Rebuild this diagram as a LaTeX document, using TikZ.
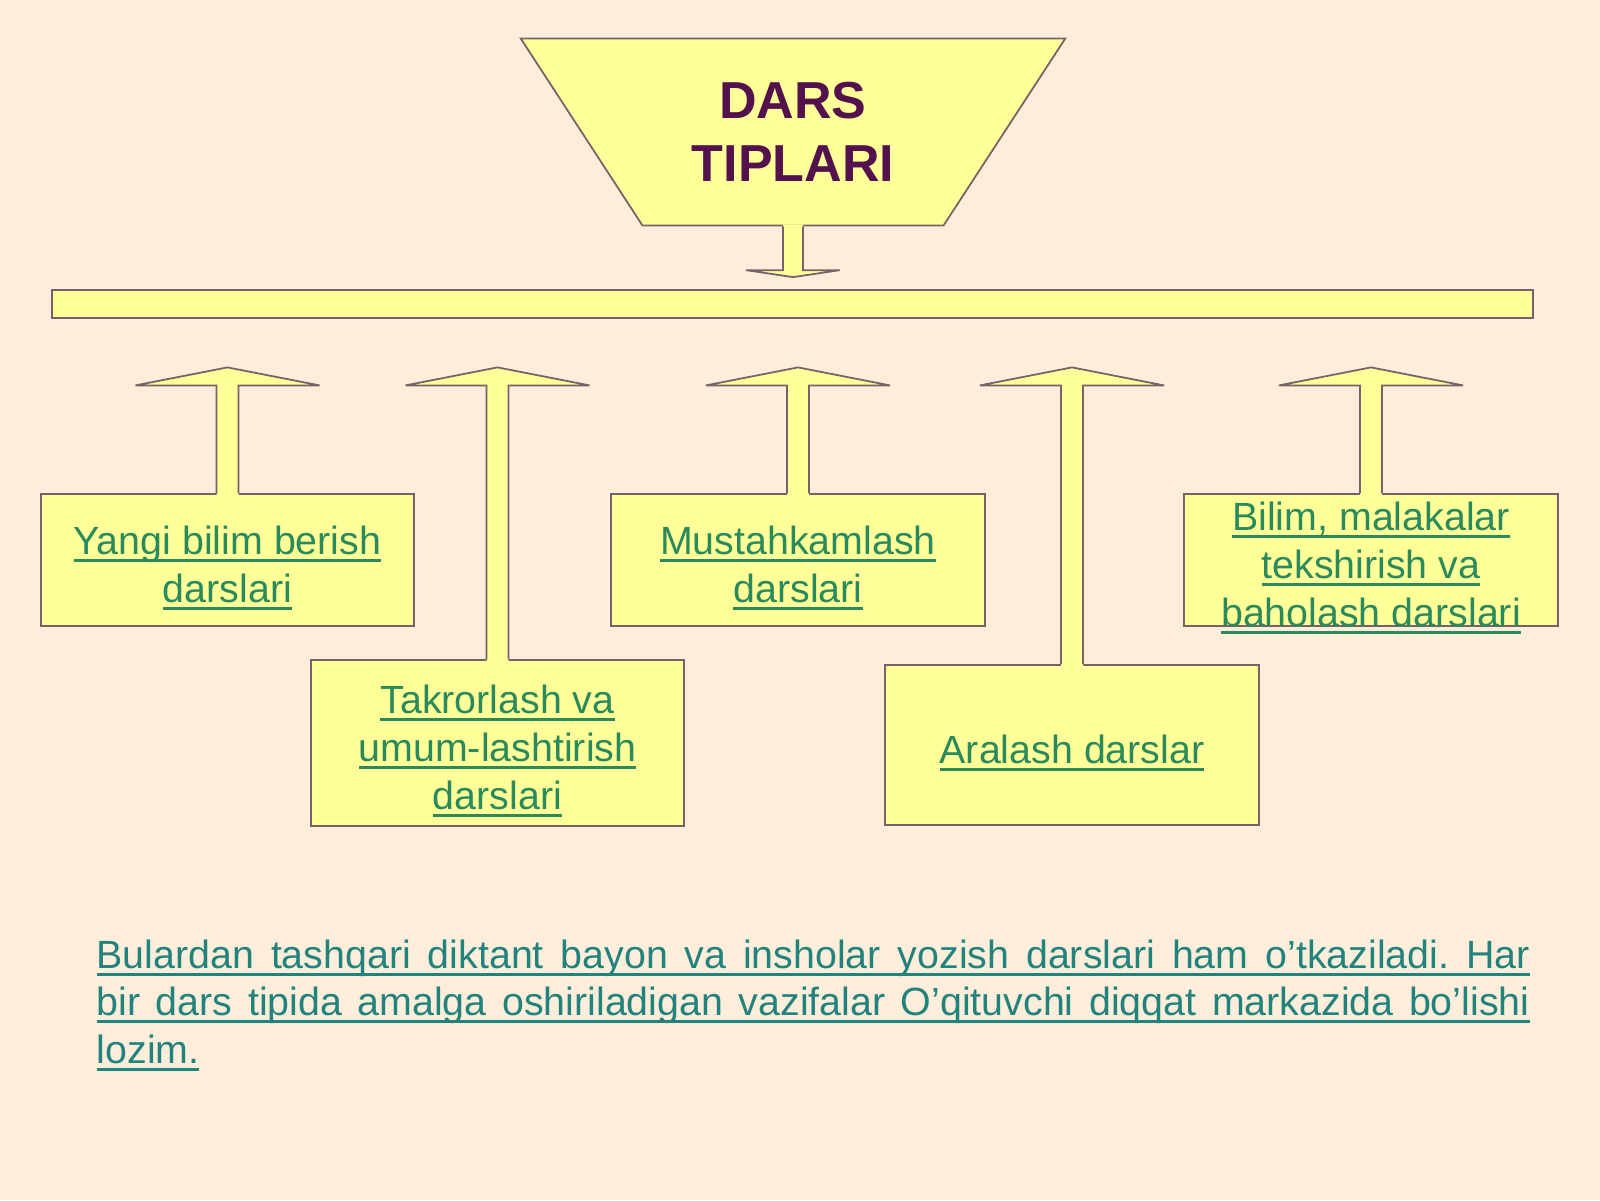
\documentclass[tikz,border=0pt]{standalone}
\usepackage{fontspec}
\setmainfont{Liberation Sans}
\usepackage{tikz}
\usetikzlibrary{shapes.geometric,calc}
\frenchspacing
\definecolor{slidebg}{RGB}{252,238,218}
\definecolor{boxyellow}{RGB}{255,255,153}
\definecolor{edgegray}{RGB}{118,98,104}
\definecolor{titlepurple}{RGB}{84,18,76}
\definecolor{linkgreen}{RGB}{42,138,92}
\definecolor{noteteal}{RGB}{34,130,124}
\newcommand{\undl}[1]{\leavevmode\setbox0\hbox{#1}\rlap{\rule[-0.2em]{\wd0}{0.08em}}\box0}
\tikzset{
  edge/.style={draw=edgegray, line width=0.5pt, line join=miter},
  lesson/.style={rectangle, edge, fill=boxyellow, minimum width=3.735cm, inner sep=0pt},
  lessontext/.style={align=center, text=linkgreen, yshift=-0.08cm, font=\fontsize{11.2}{13.65}\selectfont}
}
\newcommand{\lessonbox}[4] {\node at (#1) (#2) [lesson, minimum height=#3, label={[lessontext]center:{#4}}] {};}
\newcommand{\liftarrow}[2] {%
  \fill [boxyellow] ($(#1.north)+(-0.11,-0.02)$) -- ($(#1.north |- #2.south)+(-0.11,-0.665)$) -- ($(#1.north |- #2.south)+(-0.92,-0.665)$) -- ($(#1.north |- #2.south)+(0,-0.485)$) -- ($(#1.north |- #2.south)+(0.92,-0.665)$) -- ($(#1.north |- #2.south)+(0.11,-0.665)$) -- ($(#1.north)+(0.11,-0.02)$) -- cycle;
  \draw [edge] ($(#1.north)+(-0.11,0)$) -- ($(#1.north |- #2.south)+(-0.11,-0.665)$) -- ($(#1.north |- #2.south)+(-0.92,-0.665)$) -- ($(#1.north |- #2.south)+(0,-0.485)$) -- ($(#1.north |- #2.south)+(0.92,-0.665)$) -- ($(#1.north |- #2.south)+(0.11,-0.665)$) -- ($(#1.north)+(0.11,0)$);}
\newcommand{\droparrow}[2] {%
  \fill [boxyellow] ($(#1.south)+(-0.1,0.02)$) -- ($(#1.south |- #2.north)+(-0.1,0.19)$) -- ($(#1.south |- #2.north)+(-0.47,0.19)$) -- ($(#1.south |- #2.north)+(0,0.12)$) -- ($(#1.south |- #2.north)+(0.47,0.19)$) -- ($(#1.south |- #2.north)+(0.1,0.19)$) -- ($(#1.south)+(0.1,0.02)$) -- cycle;
  \draw [edge] ($(#1.south)+(-0.1,0)$) -- ($(#1.south |- #2.north)+(-0.1,0.19)$) -- ($(#1.south |- #2.north)+(-0.47,0.19)$) -- ($(#1.south |- #2.north)+(0,0.12)$) -- ($(#1.south |- #2.north)+(0.47,0.19)$) -- ($(#1.south |- #2.north)+(0.1,0.19)$) -- ($(#1.south)+(0.1,0)$);}

\begin{document}
\begin{tikzpicture}

\useasboundingbox (0,0) rectangle (16,-12);
\fill [slidebg] (0,0) rectangle (16,-12);

% top of the scheme
\node at (7.93,-1.32) (title) [trapezium, shape border rotate=180, trapezium stretches=true, trapezium angle=50.5, minimum width=5.45cm, minimum height=1.87cm, inner sep=0pt, edge, fill=boxyellow, align=center, text=titlepurple, font=\fontsize{14.8}{17.9}\selectfont\bfseries] {DARS\\TIPLARI};
\node at (7.925,-3.04) (bar) [rectangle, edge, fill=boxyellow, minimum width=14.81cm, minimum height=0.28cm, inner sep=0pt] {};
\droparrow{title}{bar};

% lesson types
\lessonbox {2.275,-5.60}{yangi}{1.315cm}{\undl{Yangi bilim berish}\\\undl{darslari}};
\lessonbox {4.975,-7.43}{takror}{1.655cm}{\undl{Takrorlash va}\\\undl{umum-lashtirish}\\\undl{darslari}};
\lessonbox {7.98,-5.60}{mustah}{1.315cm}{\undl{Mustahkamlash}\\\undl{darslari}};
\lessonbox {10.72,-7.45}{aralash}{1.605cm}{\undl{Aralash darslar}};
\lessonbox {13.71,-5.60}{bilim}{1.315cm}{\undl{Bilim, malakalar}\\\undl{tekshirish va}\\\undl{baholash darslari}};

\liftarrow{yangi}{bar};
\liftarrow{takror}{bar};
\liftarrow{mustah}{bar};
\liftarrow{aralash}{bar};
\liftarrow{bilim}{bar};

% note under the scheme
\node at (0.96,-10.63) (note) [anchor=base west, align=left, inner sep=0pt, text=noteteal, font=\fontsize{11.2}{13.5}\selectfont] {\undl{\makebox[14.33cm][s]{Bulardan tashqari diktant bayon va insholar yozish darslari ham o’tkaziladi. Har}}\\\undl{\makebox[14.33cm][s]{bir dars tipida amalga oshiriladigan vazifalar O’qituvchi diqqat markazida bo’lishi}}\\\undl{lozim.}};

\end{tikzpicture}
\end{document}
